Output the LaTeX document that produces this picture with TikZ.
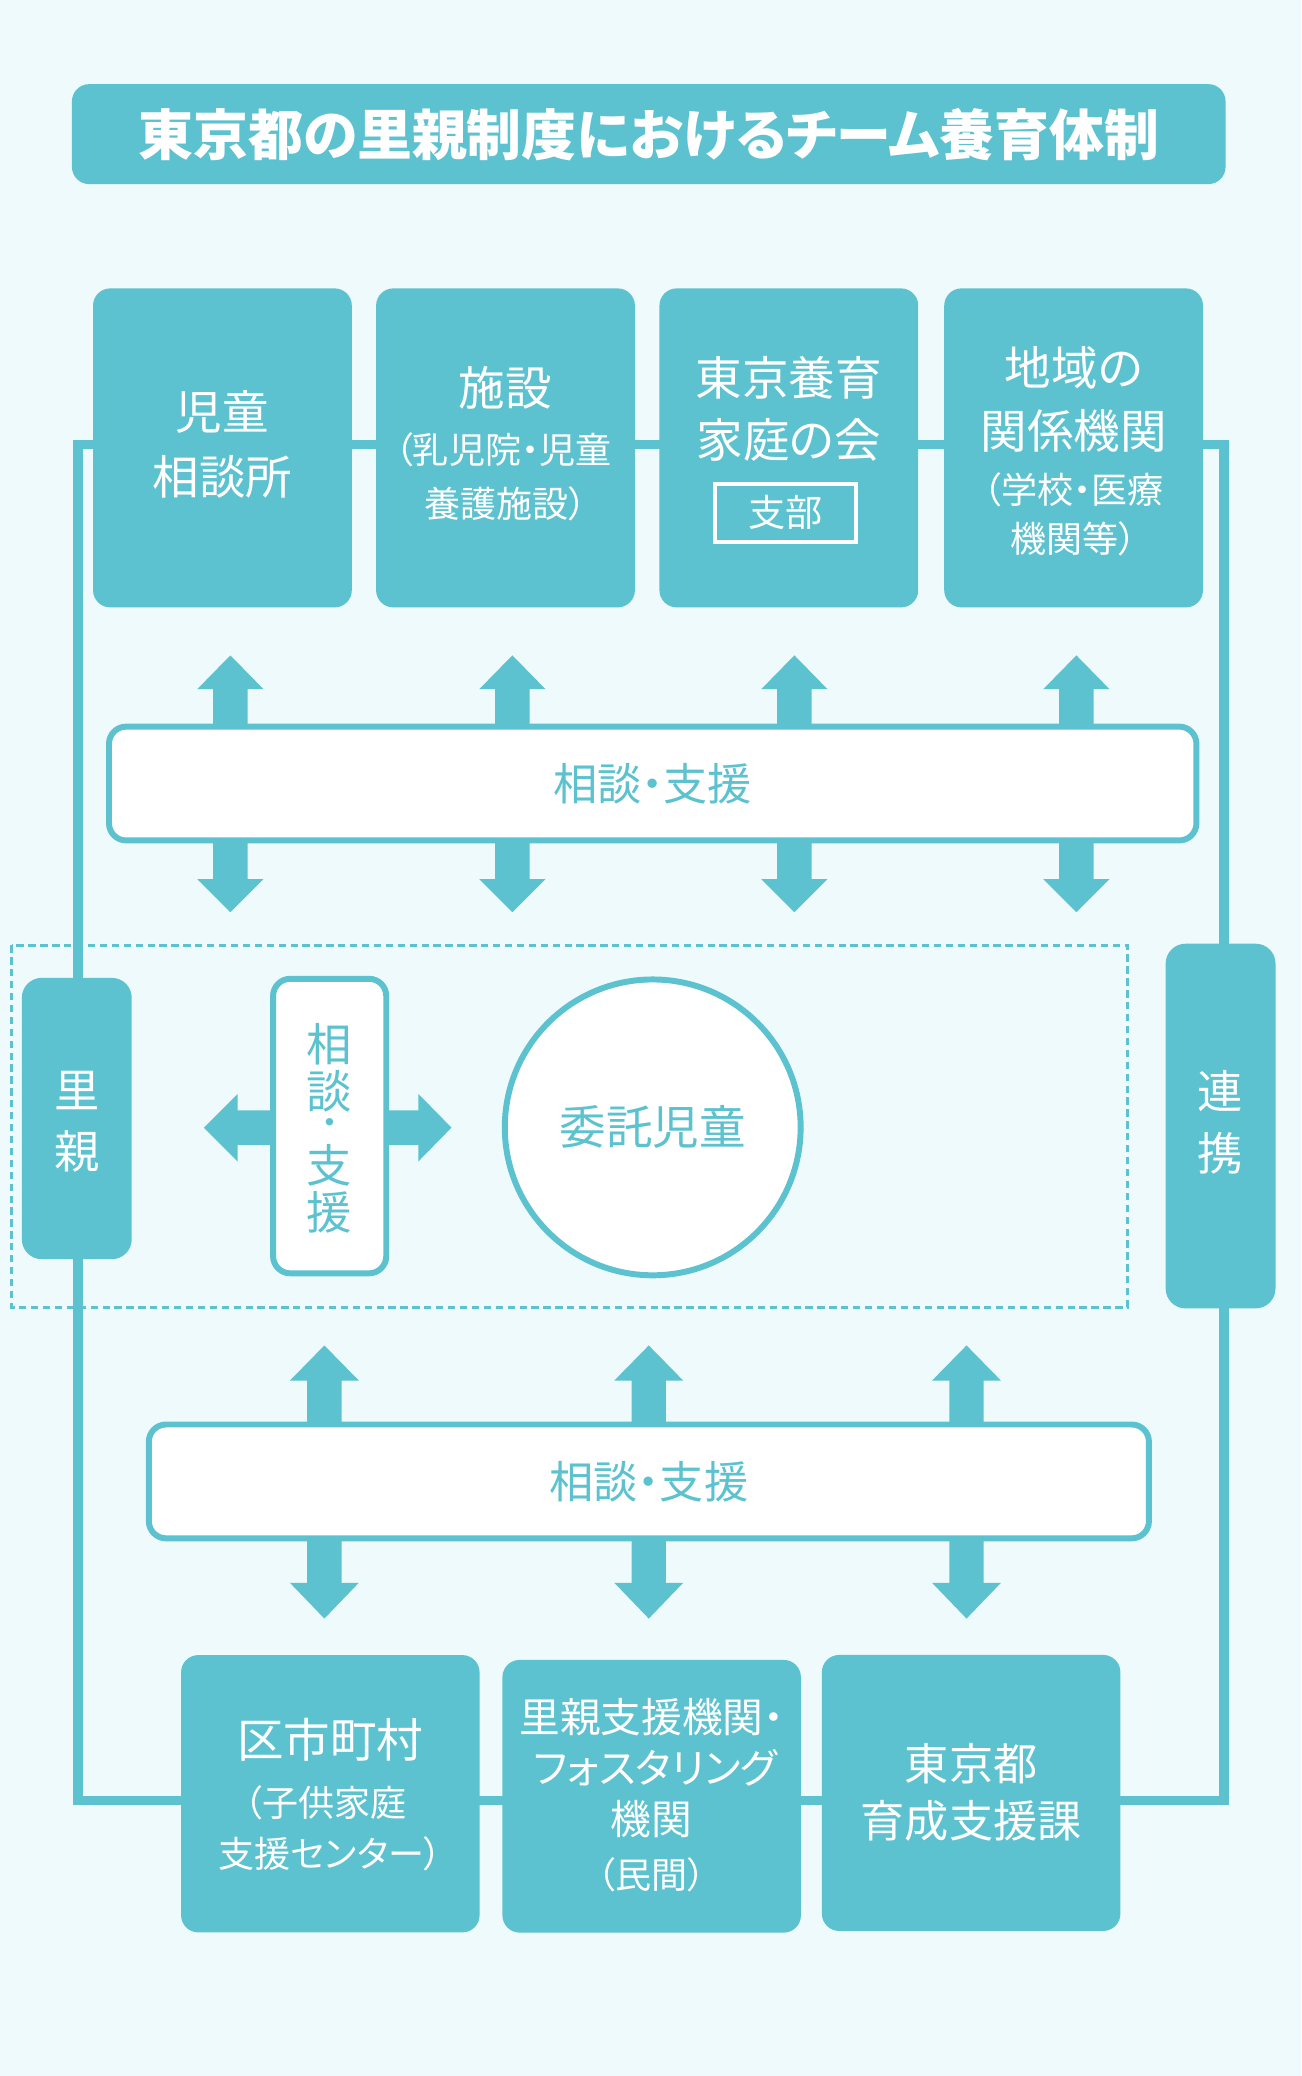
\documentclass[tikz,border=0pt]{standalone}
\usepackage{fontspec}
\setmainfont{Noto Sans CJK JP}[RawFeature=+palt]
\definecolor{fcteal}{HTML}{5DC2CF}
\definecolor{fcbg}{HTML}{EFFAFC}
\tikzset{
  tealbox/.style={fill=fcteal, rounded corners=0.26cm, inner sep=0},
  whitebox/.style={fill=white, draw=fcteal, line width=0.09cm, rounded corners=0.26cm, inner sep=0},
  frame/.style={draw=fcteal, line width=0.14cm},
  dotbox/.style={draw=fcteal, line width=0.04cm, dash pattern=on 0.11cm off 0.07cm},
  wbig/.style={text=white, inner sep=0, font=\fontsize{20}{24}\selectfont},
  wsmall/.style={text=white, inner sep=0, font=\fontsize{15.5}{19}\selectfont},
  tbig/.style={text=fcteal, inner sep=0, font=\fontsize{19.5}{24}\selectfont},
  fat/.style={fill=fcteal}
}
\begin{document}
\begin{tikzpicture}[x=0.02cm, y=-0.02cm]
  % background and bounding box
  \fill[fcbg] (0,0) rectangle (983,1568);
  \useasboundingbox (0,0) rectangle (983,1568);

  % frame line through all boxes
  \coordinate (fnw) at (58.9,336);
  \coordinate (fse) at (924.5,1359.7);
  \draw[frame] (fnw) rectangle (fse);

  % dotted area round the child
  \draw[dotbox] (8.8,714) rectangle (851.4,987.3);

  % title
  \node[tealbox, minimum width=17.43cm, minimum height=1.51cm, text=white,
        font=\fontsize{23.6}{27}\selectfont\bfseries] (title) at (490,101.3)
        {東京都の里親制度におけるチーム養育体制};

  % top row boxes
  \node[tealbox, minimum width=3.91cm, minimum height=4.82cm] (jido) at (168,338.3) {};
  \node[tealbox, minimum width=3.91cm, minimum height=4.82cm] (shisetsu) at (381.8,338.3) {};
  \node[tealbox, minimum width=3.91cm, minimum height=4.82cm] (kai) at (595.8,338.3) {};
  \node[tealbox, minimum width=3.91cm, minimum height=4.82cm] (chiiki) at (810.9,338.3) {};

  % top row texts
  \node[wbig] (jido1) at (168,311) {児童};
  \node[wbig] (jido2) at (168,360) {相談所};
  \node[wbig] (shisetsu1) at (381.8,292.7) {施設};
  \node[wsmall] (shisetsu2) at (380,340) {（乳児院・児童};
  \node[wsmall] (shisetsu3) at (381.8,380.5) {養護施設）};
  \node[wbig] (kai1) at (595.8,285) {東京養育};
  \node[wbig] (kai2) at (595.8,332.6) {家庭の会};
  \node[draw=white, line width=0.06cm, minimum width=2.13cm, minimum height=0.88cm,
        text=white, font=\fontsize{16}{19}\selectfont] (shibu) at (593.5,387.2) {支部};
  \node[wbig] (chiiki1) at (810.9,278) {地域の};
  \node[wbig] (chiiki2) at (810.9,325.6) {関係機関};
  \node[wsmall] (chiiki3) at (810.9,370) {（学校・医療};
  \node[wsmall] (chiiki4) at (810.9,407) {機関等）};

  % upper arrows
  \foreach \x in {174,387,600,813} {
    \fill[fat] (\x-13,550) -- (\x-13,520.5) -- (\x-25,520.5) -- (\x,495)
      -- (\x+25,520.5) -- (\x+13,520.5) -- (\x+13,550) -- cycle;
    \fill[fat] (\x-13,634) -- (\x-13,664) -- (\x-25,664) -- (\x,689)
      -- (\x+25,664) -- (\x+13,664) -- (\x+13,634) -- cycle;
  }

  % upper band
  \node[whitebox, minimum width=16.43cm, minimum height=1.72cm,
        text=fcteal, font=\fontsize{19}{23}\selectfont] (band1) at (493,591.8) {相談・支援};

  % side arrows
  \fill[fat] (207,838.7) -- (179.5,838.7) -- (179.5,826.2) -- (154,851.7)
    -- (179.5,877.2) -- (179.5,864.7) -- (207,864.7) -- cycle;
  \fill[fat] (291,838.7) -- (316,838.7) -- (316,826.2) -- (341,851.7)
    -- (316,877.2) -- (316,864.7) -- (291,864.7) -- cycle;

  % middle row
  \node[tealbox, rounded corners=0.3cm, minimum width=1.66cm, minimum height=4.25cm] (satooya) at (58,844.8) {};
  \node[wbig, font=\fontsize{19.5}{24}\selectfont] (sato1) at (58,823.5) {里};
  \node[wbig, font=\fontsize{19.5}{24}\selectfont] (sato2) at (58,869.5) {親};
  \node[whitebox, minimum width=1.71cm, minimum height=4.45cm] (vband) at (249,850.5) {};
  \foreach \c/\y [count=\i] in {相/789,談/824,支/880,援/916}
    \node[tbig] (vt\i) at (249,\y) {\c};
  \node[tbig, font=\fontsize{15}{18}\selectfont] (vdot) at (249,851.5) {・};
  \node[circle, fill=white, draw=fcteal, line width=0.09cm, minimum size=4.47cm,
        text=fcteal, font=\fontsize{20}{24}\selectfont] (child) at (493,851.5) {委託児童};
  \node[tealbox, rounded corners=0.3cm, minimum width=1.66cm, minimum height=5.51cm] (renkei) at (921.9,850.5) {};
  \node[wbig, font=\fontsize{19.5}{24}\selectfont] (ren1) at (921.9,824) {連};
  \node[wbig, font=\fontsize{19.5}{24}\selectfont] (ren2) at (921.9,871) {携};

  % lower arrows
  \foreach \x in {245,490,730} {
    \fill[fat] (\x-13,1078) -- (\x-13,1042.7) -- (\x-26,1042.7) -- (\x,1016.2)
      -- (\x+26,1042.7) -- (\x+13,1042.7) -- (\x+13,1078) -- cycle;
    \fill[fat] (\x-13,1160) -- (\x-13,1195.5) -- (\x-26,1195.5) -- (\x,1222.5)
      -- (\x+26,1195.5) -- (\x+13,1195.5) -- (\x+13,1160) -- cycle;
  }

  % lower band
  \node[whitebox, minimum width=15.11cm, minimum height=1.72cm,
        text=fcteal, font=\fontsize{19}{23}\selectfont] (band2) at (490.1,1118.9) {相談・支援};

  % bottom row boxes
  \node[tealbox, minimum width=4.51cm, minimum height=4.19cm] (kushi) at (249.5,1354.8) {};
  \node[tealbox, minimum width=4.51cm, minimum height=4.12cm] (fostering) at (492.2,1356.7) {};
  \node[tealbox, minimum width=4.51cm, minimum height=4.17cm] (ikusei) at (733.5,1354.2) {};

  % bottom row texts
  \node[wbig] (kushi1) at (249.5,1314) {区市町村};
  \node[wsmall] (kushi2) at (246,1361.5) {（子供家庭};
  \node[wsmall] (kushi3) at (249.5,1400) {支援センター）};
  \node[wbig, font=\fontsize{17.5}{21}\selectfont] (fostering1) at (492.2,1297) {里親支援機関・};
  \node[wbig, font=\fontsize{17.5}{21}\selectfont] (fostering2) at (495,1335) {フォスタリング};
  \node[wbig, font=\fontsize{17.5}{21}\selectfont] (fostering3) at (492.2,1374) {機関};
  \node[wsmall] (fostering4) at (492.2,1416) {（民間）};
  \node[wbig, font=\fontsize{19}{23}\selectfont] (ikusei1) at (733.5,1332) {東京都};
  \node[wbig, font=\fontsize{19}{23}\selectfont] (ikusei2) at (733.5,1375) {育成支援課};
\end{tikzpicture}
\end{document}
